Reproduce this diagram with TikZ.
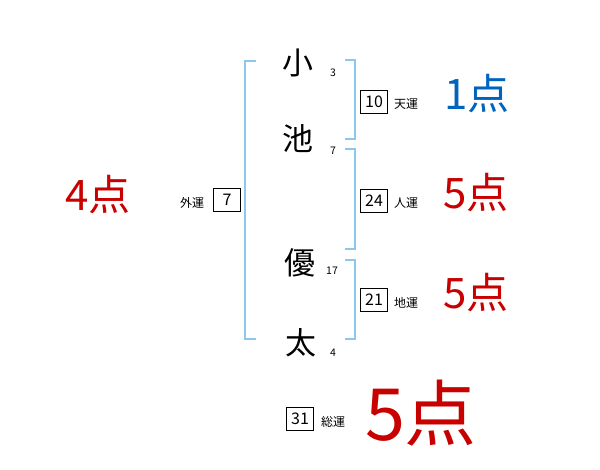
\documentclass[tikz,border=0pt]{standalone}
\usepackage{fontspec}
\setmainfont{Noto Sans CJK JP}
\newfontfamily\cjk{Noto Sans CJK JP}
\definecolor{brk}{RGB}{140,200,235}
\definecolor{scred}{RGB}{200,0,0}
\definecolor{scblue}{RGB}{0,100,190}
\tikzset{
  brkline/.style={draw=brk, line width=1.6pt},
  namechar/.style={font=\cjk\fontsize{31}{31}\selectfont, inner sep=0pt},
  strokenum/.style={font=\cjk\fontsize{10.5}{10.5}\selectfont, inner sep=0pt},
  numbox/.style={draw, line width=0.8pt, minimum width=27pt, minimum height=23pt, inner sep=0pt, font=\cjk\fontsize{16}{16}\selectfont},
  unlabel/.style={font=\cjk\fontsize{12}{12}\selectfont, inner sep=0pt},
  score/.style={font=\cjk\fontsize{42}{42}\selectfont, inner sep=0pt},
  bigscore/.style={font=\cjk\fontsize{72}{72}\selectfont, inner sep=0pt}
}
\begin{document}
\begin{tikzpicture}[x=1pt,y=-1pt]
\useasboundingbox (0,0) rectangle (600,470);
% left bracket
\coordinate (lt1) at (256,61);
\coordinate (lt2) at (245,61);
\coordinate (lb2) at (245,339);
\coordinate (lb1) at (256,339);
\draw[brkline] (lt1) -- (lt2) -- (lb2) -- (lb1);
% right brackets
\coordinate (r1a) at (345,60);
\coordinate (r1b) at (355,60);
\coordinate (r1c) at (355,139);
\coordinate (r1d) at (345,139);
\draw[brkline] (r1a) -- (r1b) -- (r1c) -- (r1d);
\coordinate (r2a) at (345,149);
\coordinate (r2b) at (355,149);
\coordinate (r2c) at (355,249);
\coordinate (r2d) at (345,249);
\draw[brkline] (r2a) -- (r2b) -- (r2c) -- (r2d);
\coordinate (r3a) at (345,260);
\coordinate (r3b) at (355,260);
\coordinate (r3c) at (355,339);
\coordinate (r3d) at (345,339);
\draw[brkline] (r3a) -- (r3b) -- (r3c) -- (r3d);
% name characters
\node[namechar] (c1) at (298,63) {小};
\node[namechar] (c2) at (298,139) {池};
\node[namechar] (c3) at (300,263) {優};
\node[namechar] (c4) at (301,343) {太};
\node[strokenum] (s1) at (333,73) {3};
\node[strokenum] (s2) at (333,151) {7};
\node[strokenum] (s3) at (332,271) {17};
\node[strokenum] (s4) at (333,353) {4};
% boxes
\node[numbox] (b10) at (374,102) {10};
\node[unlabel] (l10) at (406,104) {天運};
\node[numbox] (b24) at (374,201) {24};
\node[unlabel] (l24) at (406,203) {人運};
\node[numbox] (b21) at (374,300) {21};
\node[unlabel] (l21) at (406,303) {地運};
\node[numbox] (b31) at (300,419) {31};
\node[unlabel] (l31) at (333,422) {総運};
\node[numbox] (b7) at (227,200) {7};
\node[unlabel] (l7) at (192,203) {外運};
% scores
\node[score, text=scred] (p4) at (98,195) {4点};
\node[score, text=scblue] (p1) at (477,94) {1点};
\node[score, text=scred] (p5a) at (476,193) {5点};
\node[score, text=scred] (p5b) at (476,293) {5点};
\node[bigscore, text=scred] (p5c) at (421,413) {5点};
\end{tikzpicture}
\end{document}
